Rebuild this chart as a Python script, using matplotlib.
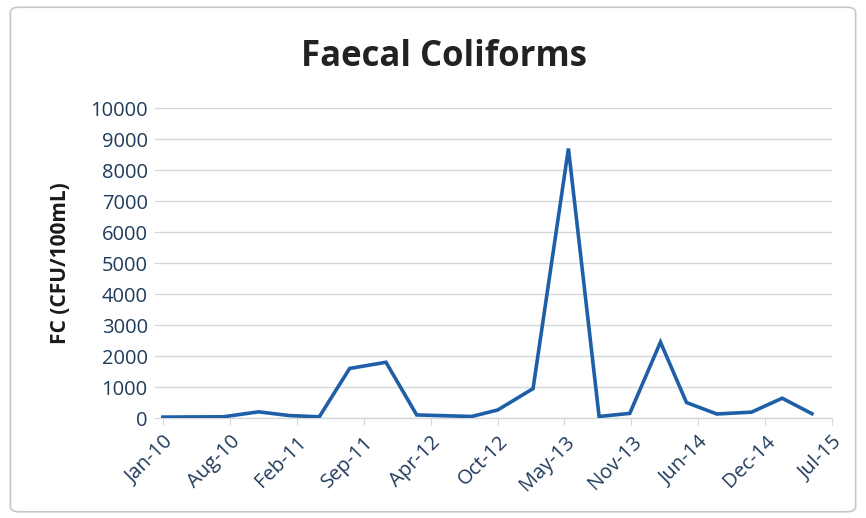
import matplotlib
matplotlib.use("Agg")
import matplotlib.pyplot as plt
import matplotlib.dates as mdates
from matplotlib.patches import FancyBboxPatch
import numpy as np
import pandas as pd

# Sampling dates and faecal coliform counts (CFU/100mL)
sample_dates = [
    "2010-01-01", "2010-07-01", "2010-10-15", "2011-01-15", "2011-04-15",
    "2011-07-15", "2011-11-01", "2012-02-01", "2012-07-15", "2012-10-01",
    "2013-01-15", "2013-05-01", "2013-08-01", "2013-11-01", "2014-02-01",
    "2014-04-20", "2014-07-20", "2014-11-01", "2015-02-01", "2015-05-01",
]
fc_values = [
    30, 40, 200, 80, 40,
    1600, 1800, 100, 50, 260,
    950, 8700, 50, 150, 2450,
    500, 130, 190, 640, 140,
]
x_labels = ["Jan-10", "Aug-10", "Feb-11", "Sep-11", "Apr-12", "Oct-12",
            "May-13", "Nov-13", "Jun-14", "Dec-14", "Jul-15"]
y_ticks = list(range(0, 10001, 1000))

label_color = "#213b5c"
line_color = "#1f5fa8"
grid_color = "#d4d7da"

fig = plt.figure(figsize=(8.66, 5.18), dpi=100)
fig.patch.set_facecolor("white")

# chart frame
frame = FancyBboxPatch((0.012, 0.012), 0.976, 0.974,
                       boxstyle="round,pad=0,rounding_size=0.01",
                       transform=fig.transFigure, facecolor="none",
                       edgecolor="#c8c8c8", linewidth=1.2, zorder=-1)
fig.patches.append(frame)

ax = fig.add_axes([0.185, 0.193, 0.776, 0.598])
ax.set_facecolor("none")

dates = mdates.date2num(pd.to_datetime(sample_dates).to_pydatetime())
start = mdates.date2num(pd.Timestamp("2010-01-01").to_pydatetime())
end = mdates.date2num(pd.Timestamp("2015-07-01").to_pydatetime())
tick_pos = np.linspace(start, end, len(x_labels))

ax.plot(dates, fc_values, color=line_color, linewidth=2.6,
        solid_joinstyle="miter", zorder=3)

ax.set_xlim(start - 8, end)
ax.set_ylim(0, 10000)
ax.set_yticks(y_ticks)
ax.set_xticks(tick_pos)
ax.set_xticklabels(x_labels, rotation=45, ha="right", rotation_mode="anchor")

font = "Open Sans"
for lbl in ax.get_yticklabels() + ax.get_xticklabels():
    lbl.set_fontfamily(font)
    lbl.set_fontsize(14.5)
    lbl.set_color(label_color)

ax.grid(axis="y", color=grid_color, linewidth=1.0)
ax.set_axisbelow(True)
for side in ["top", "right", "left"]:
    ax.spines[side].set_visible(False)
ax.spines["bottom"].set_color(grid_color)
ax.spines["bottom"].set_linewidth(1.0)
ax.tick_params(axis="y", length=4, color=grid_color, pad=5)
ax.tick_params(axis="x", length=5, color=grid_color, pad=5)

ax.set_ylabel("FC (CFU/100mL)", fontfamily=font, fontweight="bold",
              fontsize=15, color="#1a1a1a", labelpad=14)

fig.text(0.513, 0.89, "Faecal Coliforms", ha="center", va="center",
         fontfamily=font, fontweight="bold", fontsize=25, color="#222222")

fig.savefig("out.png", dpi=100, facecolor="white")
